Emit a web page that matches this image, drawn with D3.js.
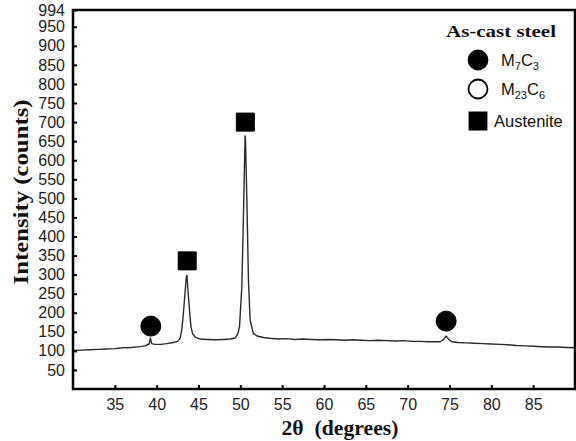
<!DOCTYPE html>
<html>
<head>
<meta charset="utf-8">
<script src="https://cdn.jsdelivr.net/npm/d3@7/dist/d3.min.js"></script>
<style>
  html, body { margin: 0; padding: 0; background: #fff; }
  svg { display: block; }
</style>
</head>
<body>
<svg id="chart" width="576" height="441"></svg>
<script>
// ---- data ----
const twoTheta = [30, 31, 32, 33, 34, 35, 36, 37, 38, 38.6, 39.1, 39.25, 39.4, 39.8, 40.5, 41.2, 42, 42.5, 42.8, 43.0, 43.2, 43.4, 43.55, 43.62, 43.8, 43.95, 44.1, 44.3, 44.6, 45.2, 46, 47, 48, 48.8, 49.2, 49.4, 49.7, 49.9, 50.18, 50.37, 50.49, 50.57, 50.62, 50.78, 50.97, 51.17, 51.56, 52.0, 52.75, 53.5, 54.5, 55.5, 56.5, 57.5, 58.5, 59.5, 60.5, 61.5, 62.5, 63.5, 64.5, 65.5, 66.5, 67.5, 68.5, 69.5, 70.5, 71.5, 72.5, 73.3, 73.9, 74.3, 74.6, 74.9, 75.3, 76, 77, 78, 79, 80, 81, 82, 83, 84, 85, 86, 87, 88, 89, 90];
const intensity = [101, 102, 103, 104, 105, 106, 108, 109, 111, 113, 118, 134, 119, 117, 117, 119, 122, 125, 133, 155, 200, 255, 294, 298, 242, 200, 163, 145, 136, 131, 130, 129, 130, 131, 133, 134, 145, 163, 268, 452, 583, 664, 650, 496, 286, 181, 146, 139, 135, 133, 131, 132, 130, 131, 130, 129, 130, 129, 128, 129, 128, 127, 128, 127, 126, 127, 125, 125, 124, 124, 124, 130, 139, 130, 124, 122, 121, 120, 119, 118, 117, 116, 114, 113, 112, 111, 110, 110, 109, 108];

const phaseNames = ["M7C3", "M23C6", "Austenite"];
const peakMarkers = [
  { x: 39.3, y: 165, phase: "M7C3" },
  { x: 43.65, y: 336, phase: "Austenite" },
  { x: 50.6, y: 700, phase: "Austenite" },
  { x: 74.6, y: 178, phase: "M7C3" }
];

const xTicks = [35, 40, 45, 50, 55, 60, 65, 70, 75, 80, 85];
const yTicks = [50, 100, 150, 200, 250, 300, 350, 400, 450, 500, 550, 600, 650, 700, 750, 800, 850, 900, 950, 994];

// ---- layout ----
const svg = d3.select("#chart");
const mLeft = 73, mRight = 575, mTop = 10, mBottom = 389;

const x = d3.scaleLinear().domain([30, 90]).range([mLeft, mRight]);
const y = d3.scaleLinear().domain([0, 994]).range([mBottom, mTop]);

const sans = "'Liberation Sans', Arial, sans-serif";
const serif = "'Liberation Serif', 'Times New Roman', serif";

// curve
const line = d3.line().x((d, i) => x(twoTheta[i])).y(d => y(d));
svg.append("path")
  .datum(intensity)
  .attr("d", line)
  .attr("fill", "none")
  .attr("stroke", "#2a2a2a")
  .attr("stroke-width", 1.4)
  .attr("stroke-linejoin", "round");

// axes
const xAxis = d3.axisBottom(x).tickValues(xTicks).tickSize(-4).tickPadding(10).tickSizeOuter(0);
const gx = svg.append("g").attr("transform", `translate(0,${mBottom})`).call(xAxis);
gx.select(".domain").remove();
gx.selectAll("line").attr("stroke", "#000").attr("stroke-width", 2);
gx.selectAll("text").attr("font-family", sans).attr("font-size", 16).attr("fill", "#222");

const yAxis = d3.axisLeft(y).tickValues(yTicks).tickSize(-4).tickPadding(8).tickSizeOuter(0);
const gy = svg.append("g").attr("transform", `translate(${mLeft},0)`).call(yAxis);
gy.select(".domain").remove();
gy.selectAll("line").attr("stroke", "#000").attr("stroke-width", 2);
gy.selectAll("text").attr("font-family", sans).attr("font-size", 16).attr("fill", "#222");

// frame
svg.append("rect")
  .attr("x", mLeft).attr("y", mTop)
  .attr("width", mRight - mLeft).attr("height", mBottom - mTop)
  .attr("fill", "none").attr("stroke", "#000").attr("stroke-width", 2.5);

// peak markers
const symFor = p => p === "Austenite" ? d3.symbolSquare : d3.symbolCircle;
const sizeFor = p => p === "Austenite" ? 18 * 18 : Math.PI * 10 * 10;
svg.append("g").selectAll("path")
  .data(peakMarkers)
  .join("path")
  .attr("transform", d => `translate(${x(d.x)},${y(d.y)})`)
  .attr("d", d => d3.symbol(symFor(d.phase), sizeFor(d.phase))())
  .attr("fill", d => d.phase === "M23C6" ? "#fff" : "#000")
  .attr("stroke", "#000")
  .attr("stroke-width", 1);

// axis titles
svg.append("text")
  .attr("x", 340).attr("y", 435)
  .attr("text-anchor", "middle")
  .style("white-space", "pre")
  .attr("font-family", serif).attr("font-weight", "bold").attr("font-size", 20)
  .attr("textLength", 117).attr("lengthAdjust", "spacingAndGlyphs")
  .attr("fill", "#111")
  .text("2θ  (degrees)");

svg.append("text")
  .attr("transform", "translate(28,192) rotate(-90)")
  .attr("text-anchor", "middle")
  .attr("font-family", serif).attr("font-weight", "bold").attr("font-size", 20)
  .attr("textLength", 185).attr("lengthAdjust", "spacingAndGlyphs")
  .attr("fill", "#111")
  .text("Intensity (counts)");

// legend
const lg = svg.append("g");
lg.append("text")
  .attr("x", 446).attr("y", 37)
  .attr("font-family", serif).attr("font-weight", "bold").attr("font-size", 17)
  .attr("textLength", 110).attr("lengthAdjust", "spacingAndGlyphs")
  .attr("fill", "#111")
  .text("As-cast steel");

const legendRows = [
  { phase: phaseNames[0], cy: 60, parts: [["M", false], ["7", true], ["C", false], ["3", true]] },
  { phase: phaseNames[1], cy: 89, parts: [["M", false], ["23", true], ["C", false], ["6", true]] },
  { phase: phaseNames[2], cy: 121, parts: [["Austenite", false]] }
];
legendRows.forEach(r => {
  lg.append("path")
    .attr("transform", `translate(478,${r.cy})`)
    .attr("d", d3.symbol(symFor(r.phase), r.phase === "Austenite" ? 17 * 17 : Math.PI * 9.5 * 9.5)())
    .attr("fill", r.phase === "M23C6" ? "#fff" : "#000")
    .attr("stroke", "#000")
    .attr("stroke-width", 1.8);
  const t = lg.append("text")
    .attr("x", r.phase === "Austenite" ? 494 : 501).attr("y", r.cy + 6)
    .attr("font-family", sans).attr("font-size", 16.5).attr("fill", "#111");
  r.parts.forEach(([s, sub], i) => {
    const ts = t.append("tspan").text(s);
    if (sub) ts.attr("font-size", 11).attr("dy", 4);
    else if (i > 0) ts.attr("dy", -4);
  });
});
</script>
</body>
</html>
